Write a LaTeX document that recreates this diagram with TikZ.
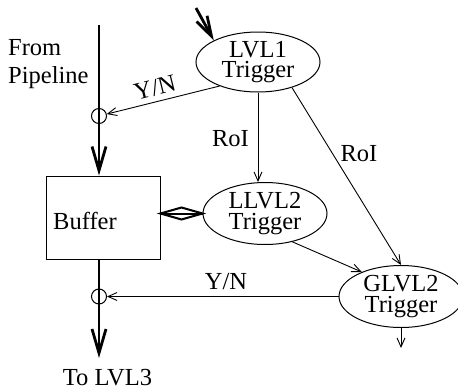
\documentclass[tikz,border=0pt]{standalone}
\usepackage{fontspec}
\setmainfont{Liberation Serif}
\usetikzlibrary{arrows.meta,shapes.geometric,calc}
\begin{document}
\begin{tikzpicture}[x=1pt,y=-1pt,
  every node/.style={font=\fontsize{24.5}{20.5}\selectfont},
  ell/.style={draw, ellipse, line width=1pt, minimum width=124pt, minimum height=62pt, inner sep=0pt, align=center},
  box/.style={draw, line width=1pt, minimum width=114pt, minimum height=83pt, inner sep=0pt},
  junc/.style={draw, circle, line width=1pt, minimum size=15pt, inner sep=0pt},
  thinarr/.style={line width=0.9pt, -{Straight Barb[length=9pt,width=8pt]}},
  bigarr/.style={line width=2.8pt, -{Straight Barb[length=24pt,width=14pt]}},
  dbl/.style={line width=2pt, line join=miter},
  lbl/.style={anchor=base, inner sep=0pt},
  lblw/.style={anchor=base west, inner sep=0pt}
]
\useasboundingbox (0,0) rectangle (458,388);

% nodes
\node[ell, minimum height=60pt] (lvl1) at (258,62) {LVL1\\Trigger};
\node[ell] (llvl2) at (265,213.5) {LLVL2\\Trigger};
\node[ell] (glvl2) at (401,296.5) {GLVL2\\Trigger};
\node[box] (buffer) at (103,217.5) {};
\node[junc] (j1) at (99,116) {};
\node[junc] (j2) at (99,296.5) {};
\coordinate (pin) at (99,25);
\coordinate (pout) at (99,358);
\coordinate (trigin) at (196,8);
\coordinate (gout) at (401,348);
\coordinate (dl) at (buffer.east |- llvl2.west);

% labels
\node[lblw] (from) at (8,55) {From};
\node[lblw] (pipe) at (8,83) {Pipeline};
\node[lblw] (buftxt) at (53,229) {Buffer};
\node[lbl] (roi1) at (230.5,146) {RoI};
\node[lbl] (roi2) at (359,161) {RoI};
\node[rotate=14, inner sep=0pt] (yn1) at (155,88) {Y/N};
\node[lbl] (yn2) at (226,289) {Y/N};
\node[lbl] (tolvl3) at (107.5,385) {To LVL3};

% connectors
\draw[bigarr] (pin) -- (pin |- buffer.north);
\draw[bigarr] (pin |- buffer.south) -- (pout);
\draw[line width=2.8pt, -{Straight Barb[length=20pt,width=12pt]}] (trigin) -- (lvl1.154);
\draw[thinarr] (lvl1.-148) -- (j1);
\draw[thinarr] (lvl1.south) -- (lvl1.south |- llvl2.north);
\draw[thinarr] (lvl1.-37) -- (glvl2.north);
\draw[thinarr] (llvl2.-46) -- (glvl2.148);
\draw[thinarr] (glvl2.west) -- (j2);
\draw[thinarr] (glvl2.south) -- (gout);
\draw[dbl] (dl) -- ($(dl)!0.5!(llvl2.west)+(0,-6)$) -- (llvl2.west)
  -- ($(dl)!0.5!(llvl2.west)+(0,6)$) -- cycle;
\draw[dbl] (dl) -- (llvl2.west);
\end{tikzpicture}
\end{document}
